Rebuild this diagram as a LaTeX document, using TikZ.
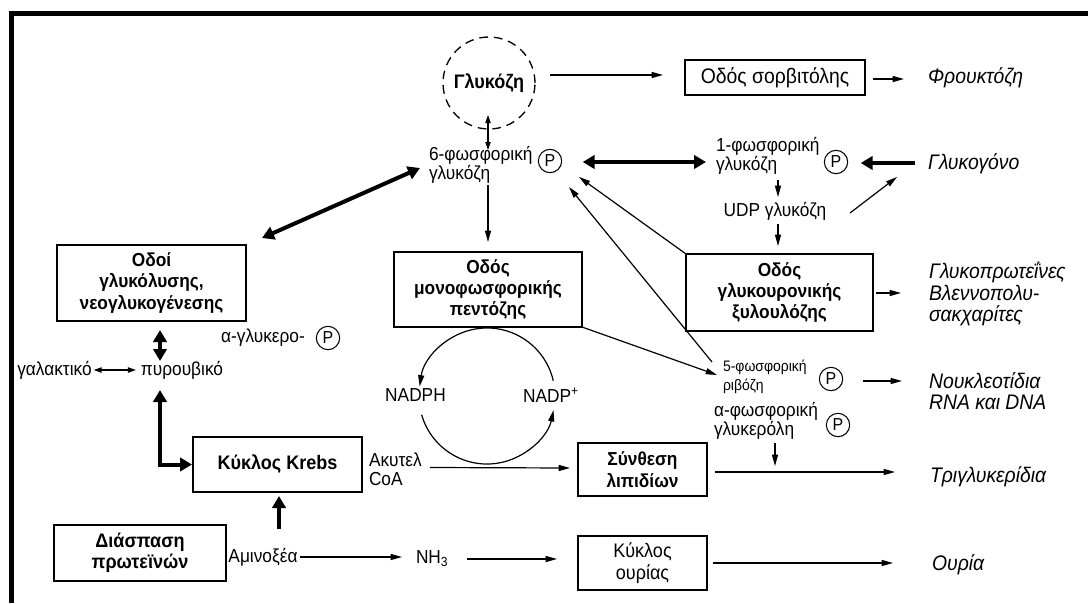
\documentclass[tikz,border=0pt]{standalone}
\usepackage{fontspec}
\setmainfont{Liberation Sans}[FakeStretch=0.92]
\usetikzlibrary{arrows.meta,calc}

\begin{document}
\begin{tikzpicture}[x=0.75pt,y=0.75pt,
  every node/.style={inner sep=0pt, outer sep=0pt},
  lbl/.style={font=\fontsize{14.1}{14.25}\selectfont, align=left},
  outl/.style={font=\fontsize{15.8}{16}\selectfont\itshape, align=left, anchor=west},
  box/.style={draw, line width=1.5pt, align=center, font=\fontsize{14.1}{16}\selectfont\bfseries},
  pc/.style={draw, circle, line width=0.8pt, minimum size=17.5pt, font=\fontsize{13}{13}\selectfont},
  arr/.style={line width=0.9pt, -{Triangle[length=8.5pt,width=4.5pt]}},
  darr/.style={line width=0.9pt, {Triangle[length=6pt,width=4pt]}-{Triangle[length=6pt,width=4pt]}},
  thk/.style={line width=3pt, -{Triangle[length=9pt,width=10pt]}},
  thkboth/.style={line width=3pt, {Triangle[length=9pt,width=10pt]}-{Triangle[length=9pt,width=10pt]}},
]
\useasboundingbox (0,0) rectangle (1088,-603);
% frame: top and left edges
\fill (9,-11) rectangle (1088,-16);
\fill (9,-11) rectangle (14,-603);

% ---- nodes ----
\node[draw, circle, dash pattern=on 6.5pt off 4.5pt, line width=1pt, minimum size=69pt,
      font=\fontsize{14.7}{15}\selectfont\bfseries] (glc) at (489,-83) {Γλυκόζη};
\node[box, font=\fontsize{15.8}{16}\selectfont, minimum width=135pt, minimum height=26.25pt] (sorb) at (775,-77.5) {Οδός σορβιτόλης};
\node[outl] (fru) at (928,-78) {Φρουκτόζη};

\node[lbl, anchor=west] (g6p) at (429,-165) {6-φωσφορική\\γλυκόζη};
\node[pc] (p6) at (550,-161) {P};
\node[lbl, anchor=west] (g1p) at (716,-156) {1-φωσφορική\\γλυκόζη};
\node[pc] (p1) at (836,-162) {P};
\node[outl] (glyc) at (928,-164) {Γλυκογόνο};
\node[lbl] (udp) at (775,-211) {UDP γλυκόζη};

\node[box, minimum width=140.25pt, minimum height=57.75pt] (gluc) at (779.5,-292.5) {Οδός\\γλυκουρονικής\\ξυλουλόζης};
\node[outl] (glyp) at (929,-294) {Γλυκοπρωτεΐνες\\Βλεννοπολυ-\\σακχαρίτες};
\node[box, minimum width=141.75pt, minimum height=57pt] (glyco) at (151.5,-283) {Οδοί\\γλυκόλυσης,\\νεογλυκογένεσης};
\node[box, minimum width=141pt, minimum height=56.25pt] (mono) at (488,-289.5) {Οδός\\μονοφωσφορικής\\πεντόζης};

\node[lbl] (agp) at (263,-338) {α-γλυκερο-};
\node[pc] (pa) at (328,-338) {P};
\node[lbl] (lac) at (54.5,-370) {γαλακτικό};
\node[lbl] (pyr) at (182,-370) {πυρουβικό};

\coordinate (cyc) at (487,-396);
\node[lbl] (nadph) at (415.5,-395) {NADPH};
\node[lbl] (nadp) at (551,-395) {NADP\textsuperscript{+}};

\node[lbl, font=\fontsize{11.4}{14}\selectfont, anchor=west] (r5p) at (723,-377) {5-φωσφορική\\ριβόζη};
\node[pc] (p5) at (831,-379) {P};
\node[outl] (nuc) at (929,-391) {Νουκλεοτίδια\\RNA και DNA};
\node[lbl, anchor=west] (a3p) at (714,-421) {α-φωσφορική\\γλυκερόλη};
\node[pc] (p3) at (838,-425) {P};

\node[box, font=\fontsize{14.7}{16}\selectfont\bfseries, minimum width=126.75pt, minimum height=41.25pt] (krebs) at (277.5,-464.5) {Κύκλος Krebs};
\node[lbl, anchor=west] (acoa) at (369,-469) {Ακυτελ\\CoA};
\node[box, minimum width=96.75pt, minimum height=39.75pt] (lip) at (642.5,-469.5) {Σύνθεση\\λιπιδίων};
\node[outl] (tg) at (930,-477) {Τριγλυκερίδια};

\node[box, font=\fontsize{14.7}{16}\selectfont\bfseries, minimum width=129pt, minimum height=42pt] (prot) at (140,-553) {Διάσπαση\\πρωτεϊνών};
\node[lbl] (aa) at (263,-557) {Αμινοξέα};
\node[lbl, anchor=west] (nh3) at (416,-559) {NH\textsubscript{3}};
\node[box, font=\fontsize{14.7}{16}\selectfont, minimum width=96.75pt, minimum height=40.5pt] (urea) at (642.5,-563) {Κύκλος\\ουρίας};
\node[outl] (ur) at (932,-565) {Ουρία};

% ---- connectors ----
\draw[arr] ($(glc.center)+(61,8)$) -- ($(sorb.west)+(-22,2.5)$);
\draw[arr] ($(sorb.east)+(8,-1.5)$) -- ($(fru.west)+(-24,-1)$);
\draw[darr] ($(glc.center)+(-1,-32)$) -- ($(glc.center)+(-1,-67)$);
\draw[thkboth] ($(p6.east)+(21,-1)$) -- ($(p1.center)+(-130,0)$);
\draw[thk] ($(glyc.west)+(-13,1)$) -- ($(p1.east)+(13,-1)$);
\draw[arr] ($(udp.center)+(3,31)$) -- ($(udp.center)+(3,14)$);
\draw[arr] ($(udp.center)+(75,-2)$) -- ($(glyc.west)+(-31,-13)$);
\draw[arr] ($(udp.center)+(3,-13)$) -- ($(gluc.north)+(-1.5,8)$);
\draw[arr] ($(gluc.east)+(3,-0.5)$) -- ($(glyp.west)+(-28,1)$);
\draw[arr] ($(mono.north)+(0,67)$) -- ($(mono.north)+(0,10)$);
\draw[thkboth] ($(p6.center)+(-130,-7)$) -- ($(glyco.center)+(110.5,45)$);
\draw[thkboth] ($(glyco.south)+(8.5,-9)$) -- ($(glyco.south)+(8.5,-40)$);
\draw[darr] ($(lac.east)+(2,0)$) -- ($(pyr.west)+(-5,0)$);
\draw[thkboth] ($(pyr.center)+(-22,-20)$) |- ($(krebs.west)+(-1,0)$);
\draw[thk] ($(krebs.south)+(1.5,-37)$) -- ($(krebs.south)+(1.5,-4)$);
\draw[arr] ($(aa.east)+(2,0)$) -- ($(nh3.west|-aa.east)+(-14,0)$);
\draw[arr] ($(nh3.east|-urea.west)+(19,4)$) -- ($(urea.west)+(-21,4)$);
\draw[arr] ($(urea.east)+(6,0)$) -- ($(ur.west)+(-39,2)$);
\draw[arr] ($(acoa.east|-lip.west)+(8,2)$) -- ($(lip.west)+(-8,1.5)$);
\draw[arr] ($(lip.east)+(8,-2.5)$) -- ($(tg.west)+(-35,5)$);
\draw[arr] ($(p3.center)+(-63,-18)$) -- ($(p3.center)+(-63,-41)$);
\draw[arr] (mono.south east) -- ($(p5.center)+(-114,4)$);
\draw[arr] ($(p5.center)+(-119,17)$) -- ($(p6.center)+(19,-26)$);
\draw[arr] (gluc.north west) -- ($(p6.center)+(29,-16)$);
\draw[arr] ($(p5.east)+(20,-2)$) -- ($(nuc.west)+(-27,10)$);

% NADPH / NADP+ cycle
\draw[arr] ([shift={(13:51pt)}]cyc) arc[start angle=13, end angle=172, radius=51pt];
\draw[arr] ([shift={(196:51pt)}]cyc) arc[start angle=196, end angle=348, radius=51pt];
\end{tikzpicture}
\end{document}
